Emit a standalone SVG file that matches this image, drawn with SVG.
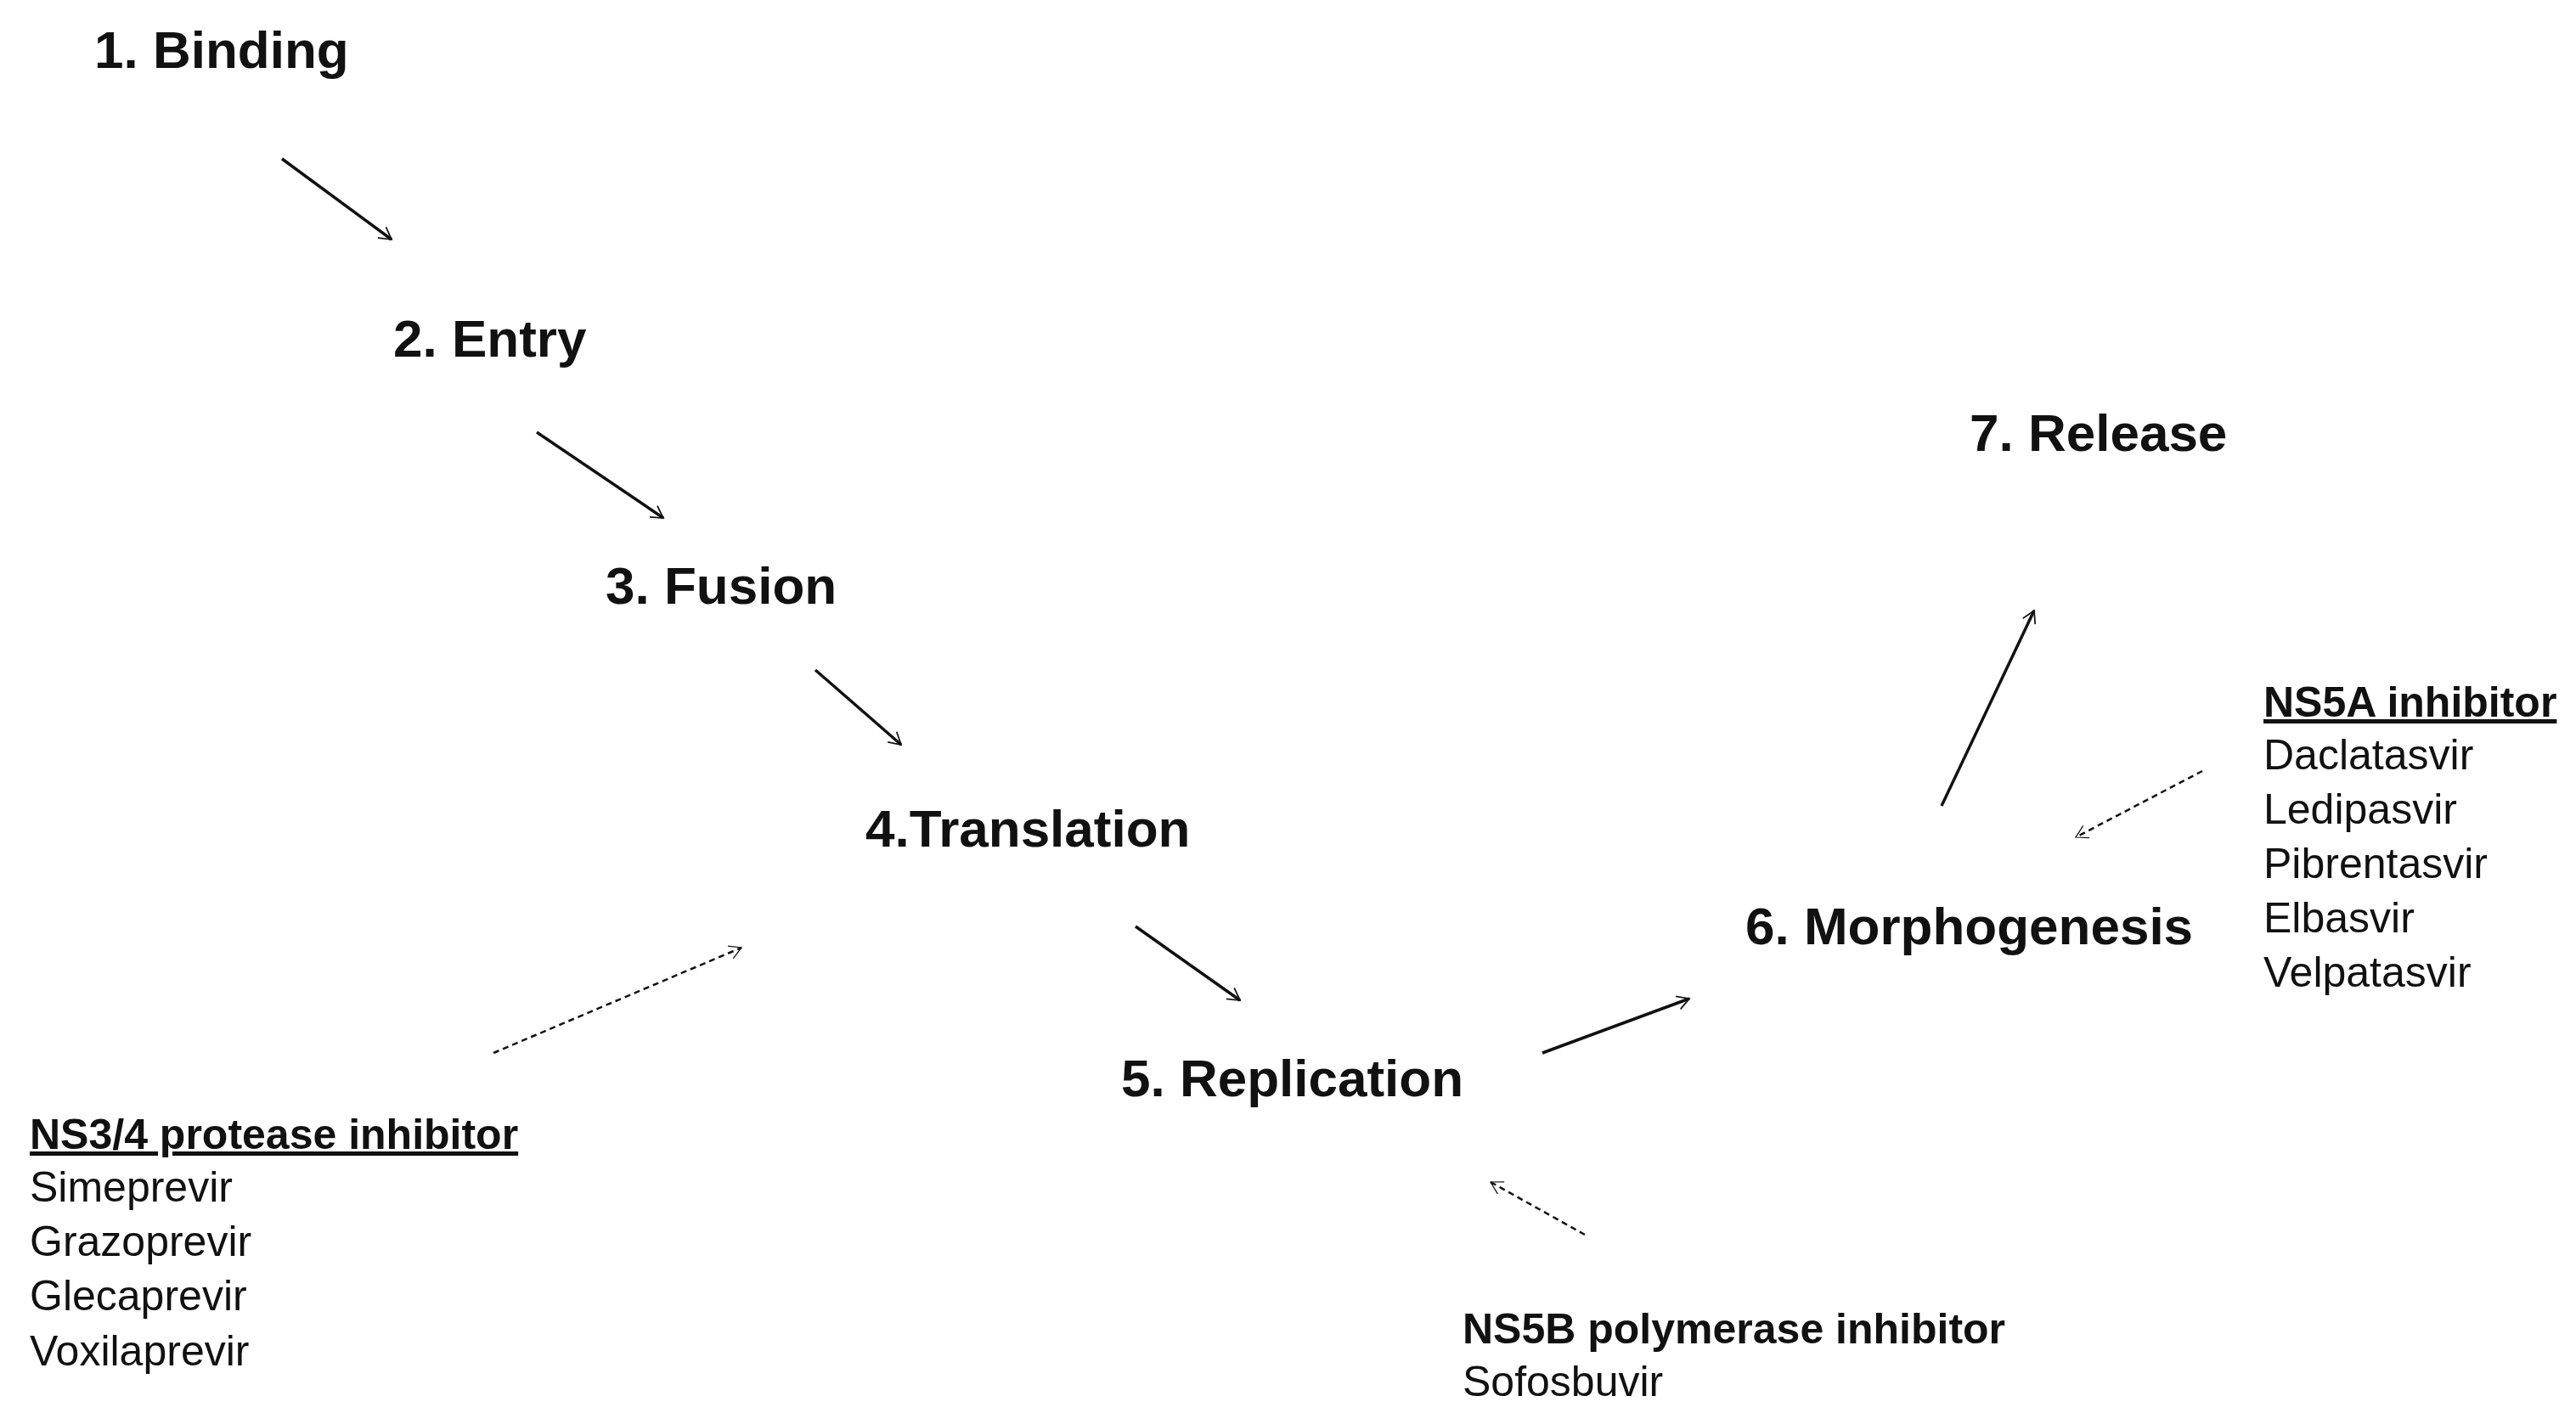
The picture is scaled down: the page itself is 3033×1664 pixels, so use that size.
<svg xmlns="http://www.w3.org/2000/svg" width="3033" height="1664" viewBox="0 0 3033 1664">
<style>
.t{font-family:"Liberation Sans",Arial,sans-serif;font-weight:bold;font-size:62px;fill:#111}
.h{font-family:"Liberation Sans",Arial,sans-serif;font-weight:bold;font-size:50px;fill:#111}
.u{text-decoration:underline}
.d{font-family:"Liberation Sans",Arial,sans-serif;font-size:50px;fill:#111}
.s{stroke:#111;stroke-width:3.5;fill:none}
.ds{stroke:#111;stroke-width:2.5;fill:none;stroke-dasharray:7 5}
</style>
<defs>
<marker id="a" viewBox="0 0 20 20" refX="18" refY="10" markerWidth="10" markerHeight="10" markerUnits="userSpaceOnUse" orient="auto" overflow="visible">
<path d="M-10,-6 L18,10 L-10,26" fill="none" stroke="#111" stroke-width="3.5"/>
</marker>
<marker id="b" viewBox="0 0 20 20" refX="18" refY="10" markerWidth="10" markerHeight="10" markerUnits="userSpaceOnUse" orient="auto" overflow="visible">
<path d="M-10,-6 L18,10 L-10,26" fill="none" stroke="#111" stroke-width="2.5"/>
</marker>
</defs>
<g id="connectors">
<line class="s" x1="332" y1="187" x2="461" y2="282" marker-end="url(#a)"/>
<line class="s" x1="632" y1="509" x2="781" y2="610" marker-end="url(#a)"/>
<line class="s" x1="960" y1="789" x2="1061" y2="877" marker-end="url(#a)"/>
<line class="s" x1="1337" y1="1091" x2="1460" y2="1178" marker-end="url(#a)"/>
<line class="s" x1="1816" y1="1240" x2="1989" y2="1176" marker-end="url(#a)"/>
<line class="s" x1="2286" y1="949" x2="2395" y2="719" marker-end="url(#a)"/>
<line class="ds" x1="2593" y1="908" x2="2444" y2="986" marker-end="url(#b)"/>
<line class="ds" x1="581" y1="1240" x2="873" y2="1116" marker-end="url(#b)"/>
<line class="ds" x1="1866" y1="1454" x2="1755" y2="1392" marker-end="url(#b)"/>
</g>
<g id="binding"><text class="t" x="111" y="80">1. Binding</text></g>
<g id="entry"><text class="t" x="463" y="420">2. Entry</text></g>
<g id="fusion"><text class="t" x="713" y="711">3. Fusion</text></g>
<g id="translation"><text class="t" x="1019" y="997">4.Translation</text></g>
<g id="replication"><text class="t" x="1320" y="1291">5. Replication</text></g>
<g id="morphogenesis"><text class="t" x="2055" y="1112">6. Morphogenesis</text></g>
<g id="release"><text class="t" x="2319" y="531">7. Release</text></g>
<g id="ns5a">
<text class="h u" x="2665" y="844">NS5A inhibitor</text>
<text class="d" x="2665" y="906">Daclatasvir</text>
<text class="d" x="2665" y="970">Ledipasvir</text>
<text class="d" x="2665" y="1034">Pibrentasvir</text>
<text class="d" x="2665" y="1098">Elbasvir</text>
<text class="d" x="2665" y="1162">Velpatasvir</text>
</g>
<g id="ns34">
<text class="h u" x="35" y="1353">NS3/4 protease inhibitor</text>
<text class="d" x="35" y="1415">Simeprevir</text>
<text class="d" x="35" y="1479">Grazoprevir</text>
<text class="d" x="35" y="1543">Glecaprevir</text>
<text class="d" x="35" y="1608">Voxilaprevir</text>
</g>
<g id="ns5b">
<text class="h" x="1722" y="1582">NS5B polymerase inhibitor</text>
<text class="d" x="1722" y="1644">Sofosbuvir</text>
</g>
</svg>
